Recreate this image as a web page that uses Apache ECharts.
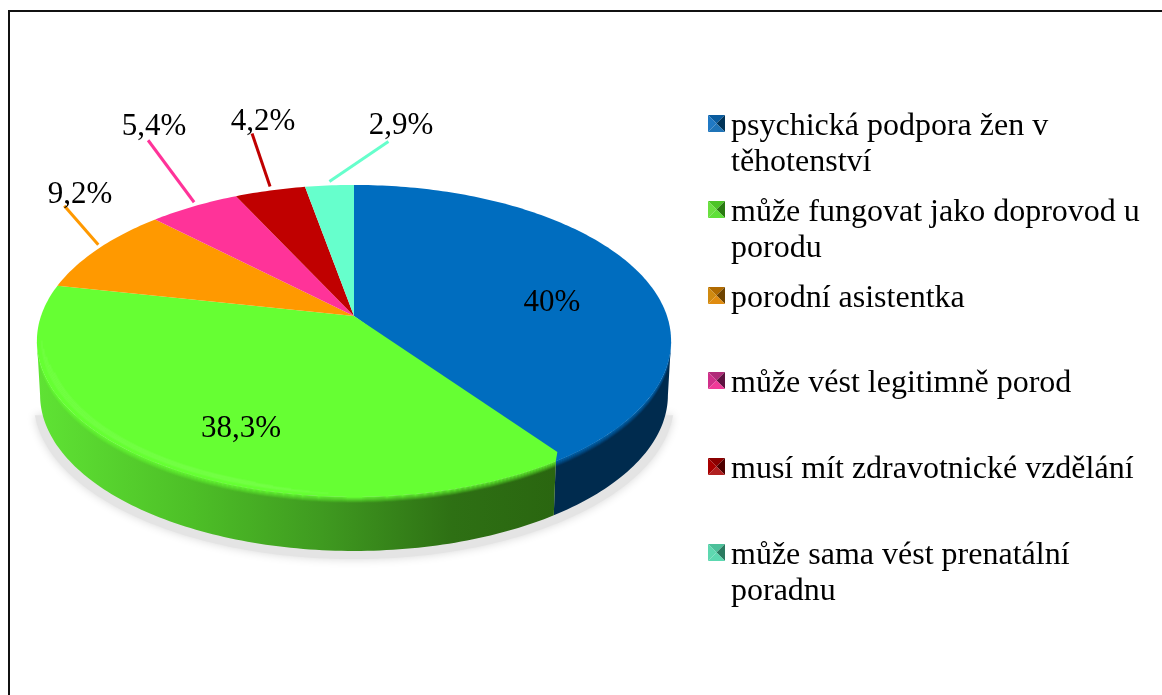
<!DOCTYPE html>
<html><head><meta charset="utf-8">
<style>html,body{margin:0;padding:0;background:#fff}#c{width:1162px;height:695px}</style>
<script src="https://cdn.jsdelivr.net/npm/echarts@6/dist/echarts.min.js"></script>
</head><body><div id="c"></div>
<script>
// ---- data ----
const categories = [
  'psychická podpora žen v\ntěhotenství',
  'může fungovat jako doprovod u\nporodu',
  'porodní asistentka',
  'může vést legitimně porod',
  'musí mít zdravotnické vzdělání',
  'může sama vést prenatální\nporadnu'
];
const values = [40, 38.3, 9.2, 5.4, 4.2, 2.9];

// ---- styles & layout ----
const topColors  = ['#006dbf', '#66ff33', '#ff9900', '#ff3399', '#c00000', '#66ffcc'];
const leaderOut  = [null, null, [-34, -39], [-46, -62], [-18, -53], [59, -40]];
const labelPos   = [[552, 303], [241, 429], [80, 195], [154, 127], [263, 122], [401, 126]];
const legendRows = [125, 211, 297, 382, 468, 554];
const iconShades = [
  ['#0a5c9e', '#2079c4', '#003358', '#1f74b8'],
  ['#4cc426', '#6ae040', '#2a7a12', '#5ee038'],
  ['#b06a00', '#d08a10', '#6e4300', '#e08c10'],
  ['#b02a78', '#d0308a', '#5e1240', '#f03a98'],
  ['#8a0000', '#a80000', '#4e0000', '#b02020'],
  ['#4cc09a', '#5ed8b0', '#2a7a60', '#5cd8b0']
];
const SERIF = '"Liberation Serif","Times New Roman",serif';
const LABEL_FONT = '31px ' + SERIF;
const LEGEND_FONT = '32px ' + SERIF;

// projected disc: apex + perspective
const AX = 354, AY = 316, K = 0.16, BX = 313, BY = 152, DEPTH = 54, WALL_SX = 0.99;
const WALL_FROM = 99.2, WALL_TO = 260.8;
// rounded front corner where two walled slices meet
const CORNER_DEG = 2, CORNER_R = 0.967;

function pt(deg, r, dy, sx) {
  const a = deg * Math.PI / 180, u = Math.sin(a) * r, v = -Math.cos(a) * r;
  const d = 1 - K * v;
  return [AX + (sx || 1) * BX * u / d, AY + BY * v / d + (dy || 0)];
}
function arc(a0, a1, r, dy, sx) {
  const out = [], n = Math.max(2, Math.ceil(Math.abs(a1 - a0)));
  for (let i = 0; i <= n; i++) out.push(pt(a0 + (a1 - a0) * i / n, r, dy, sx));
  return out;
}
const total = values.reduce((a, b) => a + b, 0);
function angles(i) {
  let s = 0;
  for (let j = 0; j < i; j++) s += values[j];
  return [s / total * 360, (s + values[i]) / total * 360];
}
const wallFills = [
  '#002b4e',
  { type: 'linear', x: 0, y: 0, x2: 1, y2: 0, colorStops: [
    { offset: 0, color: '#5fe334' }, { offset: 0.3, color: '#4dbf27' },
    { offset: 0.55, color: '#3f9a20' }, { offset: 0.8, color: '#2e7014' }, { offset: 1, color: '#2a6610' } ] }
];
const rimLight = [null, '#a8ff85'];
const frontBoundary = angles(1)[0];

function renderSlice(params, api) {
  const i = params.dataIndex, [a0, a1] = angles(i), kids = [];
  const e0 = a0 === frontBoundary ? a0 + CORNER_DEG : a0;
  const e1 = a1 === frontBoundary ? a1 + CORNER_DEG : a1;
  const w0 = Math.max(e0, WALL_FROM), w1 = Math.min(e1, WALL_TO);
  if (w1 > w0) {
    kids.push({ type: 'polygon', shape: { points: arc(w0, w1, 1).concat(arc(w1, w0, 1, DEPTH, WALL_SX)) },
      style: { fill: wallFills[i] } });
    for (let d = 0; d < 6; d++) {
      kids.push({ type: 'polygon',
        shape: { points: arc(w0, w1, 1, d).concat(arc(w1, w0, 1, d + 1)) },
        style: { fill: topColors[i], opacity: 1 - (d + 0.5) / 6 } });
    }
  }
  const face = a0 === frontBoundary ? [[AX, AY], pt(a0, CORNER_R)] : [[AX, AY]];
  kids.push({ type: 'polygon', shape: { points: face.concat(arc(e0, e1, 1)) },
    style: { fill: topColors[i] } });
  if (rimLight[i]) {
    for (let b = 0; b < 5; b++) {
      kids.push({ type: 'polyline', shape: { points: arc(a0 + 40 + b * 3, Math.min(a1, WALL_TO) - b * 3, 0.985 - b * 0.004) },
        style: { stroke: rimLight[i], lineWidth: 2, opacity: 0.1, fill: 'none' } });
    }
  }
  if (leaderOut[i]) {
    const m = pt((a0 + a1) / 2, 1, -4);
    kids.push({ type: 'line', shape: { x1: m[0], y1: m[1], x2: m[0] + leaderOut[i][0], y2: m[1] + leaderOut[i][1] },
      style: { stroke: topColors[i], lineWidth: 3 } });
  }
  kids.push({ type: 'text', style: {
    text: String(values[i]).replace('.', ',') + '%', x: labelPos[i][0], y: labelPos[i][1],
    font: LABEL_FONT, fill: '#000', textAlign: 'center', textVerticalAlign: 'middle' } });
  // legend entry
  const ly = legendRows[i], s = 17, x0 = 708, y0 = ly - 10, cx = x0 + s / 2, cy = y0 + s / 2;
  const c = iconShades[i];
  [[[x0, y0], [x0 + s, y0]], [[x0, y0], [x0, y0 + s]], [[x0 + s, y0], [x0 + s, y0 + s]], [[x0, y0 + s], [x0 + s, y0 + s]]]
    .forEach((e, n) => kids.push({ type: 'polygon', shape: { points: [e[0], e[1], [cx, cy]] }, style: { fill: c[n] } }));
  kids.push({ type: 'text', style: {
    text: categories[i], x: 731, y: ly - 16, font: LEGEND_FONT, lineHeight: 36, fill: '#000',
    textAlign: 'left', textVerticalAlign: 'top' } });
  return { type: 'group', children: kids };
}
function renderShadow() {
  return { type: 'polygon', shape: { points: arc(WALL_FROM + 5, WALL_TO - 5, 1.01, DEPTH + 6) },
    style: { fill: '#e4e4e4', shadowBlur: 10, shadowColor: '#d8d8d8' } };
}

const chart = echarts.init(document.getElementById('c'), null, { renderer: 'canvas' });
chart.setOption({
  animation: false,
  backgroundColor: '#fff',
  graphic: [{ type: 'polyline', silent: true, z: 0,
    shape: { points: [[9, 700], [9, 11], [1170, 11]] },
    style: { stroke: '#111', lineWidth: 2, fill: 'none' } }],
  series: [
    { type: 'custom', name: 'shadow', coordinateSystem: 'none', silent: true, z: 1, data: [1], renderItem: renderShadow },
    { type: 'custom', name: 'podíl', coordinateSystem: 'none', silent: true, z: 2,
      data: values.map((v, i) => ({ name: categories[i], value: v })), renderItem: renderSlice }
  ]
});
</script></body></html>
